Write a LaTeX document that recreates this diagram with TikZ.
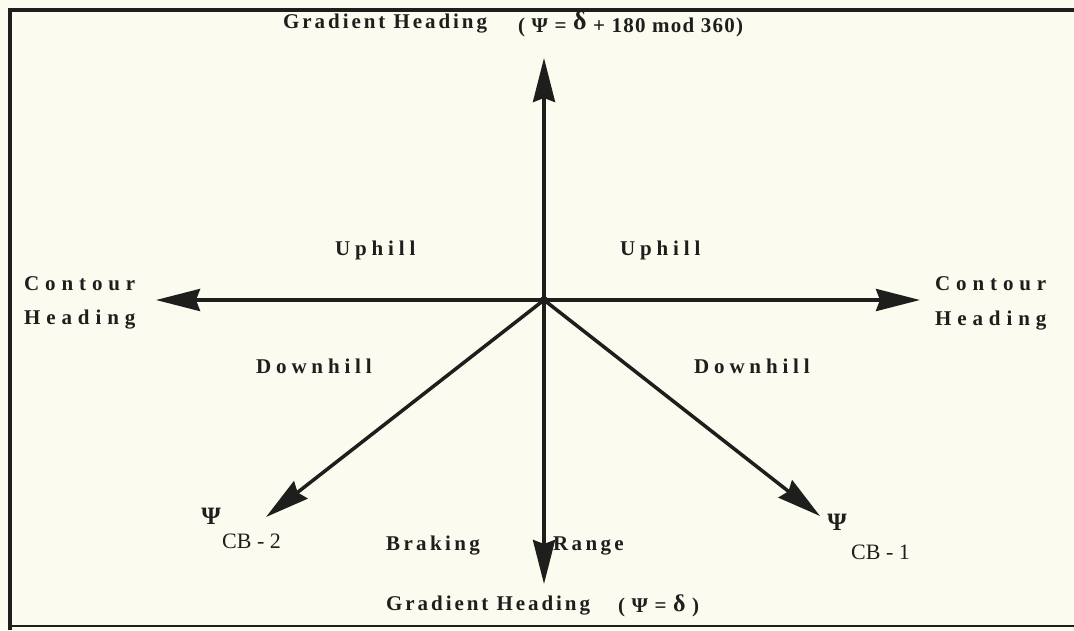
\documentclass[tikz,border=0pt]{standalone}
\usepackage{fontspec}
\setmainfont{Liberation Serif}
\newfontfamily\lsA[LetterSpace=14]{Liberation Serif}
\newfontfamily\lsB[LetterSpace=23]{Liberation Serif}
\newfontfamily\lsC[LetterSpace=28]{Liberation Serif}
\newfontfamily\lsD[LetterSpace=16]{Liberation Serif}
\newfontfamily\lsP[LetterSpace=6]{Liberation Serif}
\usetikzlibrary{arrows.meta}
\definecolor{paper}{RGB}{251,251,240}
\definecolor{ink}{RGB}{30,30,28}
\begin{document}
\begin{tikzpicture}[x=1pt,y=-1pt,
  lbl/.style={font=\lsB\bfseries\fontsize{21}{24}\selectfont, text=ink, inner sep=0pt},
  ttlbl/.style={lbl, font=\lsA\bfseries\fontsize{21}{24}\selectfont},
  sidelbl/.style={lbl, font=\lsC\bfseries\fontsize{21}{24}\selectfont},
  narlbl/.style={lbl, font=\lsD\bfseries\fontsize{21}{24}\selectfont},
  par/.style={font=\lsP\bfseries\fontsize{21}{24}\selectfont, text=ink, inner sep=0pt},
  sub/.style={font=\fontsize{22}{24}\selectfont, text=ink, inner sep=0pt},
  psi/.style={font=\bfseries\fontsize{25}{25}\selectfont, text=ink, inner sep=0pt},
  axis/.style={draw=ink, line width=3.5pt, -{Stealth[length=44pt,width=22pt,inset=4pt]}}]
\fill[paper] (0,0) rectangle (1074,630);
\useasboundingbox (0,0) rectangle (1074,630);
% frame
\draw[ink, line width=3.5pt] (10,630) -- (10,10) -- (1074,10);
\draw[ink, line width=2.5pt] (10,626) -- (1074,626);
% axes
\coordinate (O) at (544,300);
\coordinate (up) at (544,58);
\coordinate (dn) at (544,584);
\coordinate (lf) at (156,300);
\coordinate (rt) at (920,300);
\coordinate (ll) at (266,517);
\coordinate (lr) at (820,516);
\draw[axis] (O) -- (up);
\draw[axis] (O) -- (dn);
\draw[axis] (O) -- (lf);
\draw[axis] (O) -- (rt);
\draw[axis] (O) -- (ll);
\draw[axis] (O) -- (lr);
\fill[ink] (O) circle (4pt);
% labels
\node[ttlbl, anchor=west] (ttl) at (283,24) {Gradient Heading};
\node[par, anchor=west] (ttp) at (518,24) {( Ψ = \raisebox{3pt}{\fontsize{26}{26}\selectfont δ} + 180 mod 360)};
\node[ttlbl, anchor=west] (btl) at (386,606) {Gradient Heading};
\node[par, anchor=west] (btp) at (618,606) {( Ψ = \raisebox{1pt}{\fontsize{24}{24}\selectfont δ} )};
\node[lbl, anchor=west] (upl) at (335,250) {Uphill};
\node[lbl, anchor=west] (upr) at (620,250) {Uphill};
\node[sidelbl, anchor=west] (cl1) at (24,284) {Contour};
\node[sidelbl, anchor=west] (cl2) at (24,320) {Heading};
\node[sidelbl, anchor=west] (cr1) at (935,284) {Contour};
\node[sidelbl, anchor=west] (cr2) at (935,321) {Heading};
\node[lbl, anchor=west] (dl) at (256,366) {Downhill};
\node[lbl, anchor=west] (dr) at (694,366) {Downhill};
\node[narlbl, anchor=west] (brk) at (386,546) {Braking};
\node[narlbl, anchor=west] (rng) at (553,546) {Range};
\node[psi] (p2) at (211,516) {Ψ};
\node[sub, anchor=west] (c2) at (222,541) {CB - 2};
\node[psi] (p1) at (837,522) {Ψ};
\node[sub, anchor=west] (c1) at (851,552) {CB - 1};
\end{tikzpicture}
\end{document}
